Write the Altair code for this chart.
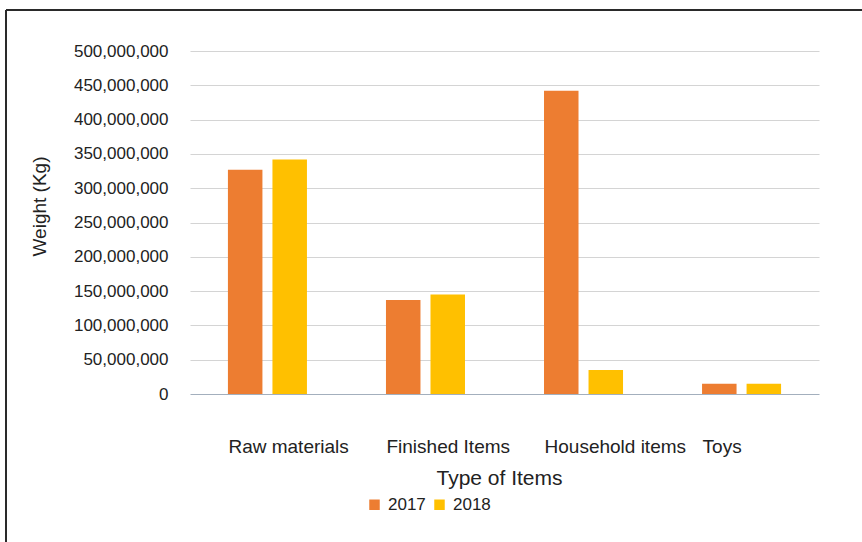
import altair as alt
import pandas as pd

categories = ["Raw materials", "Finished Items", "Household items", "Toys"]
years = ["2017", "2018"]
values_2017 = [327000000, 137000000, 442000000, 15000000]
values_2018 = [342000000, 145000000, 35000000, 15000000]
y_ticks = list(range(0, 500000001, 50000000))
colors = ["#ED7D31", "#FFC000"]

rows = []
for c, a, b in zip(categories, values_2017, values_2018):
    rows.append({"Type": c, "Year": "2017", "Weight": a})
    rows.append({"Type": c, "Year": "2018", "Weight": b})
df = pd.DataFrame(rows)

FONT = "Liberation Sans"
TXT = "#222222"

bars = alt.Chart(df).mark_bar().encode(
    x=alt.X("Type:N", sort=categories,
            scale=alt.Scale(paddingInner=0.5, paddingOuter=0.24),
            axis=alt.Axis(title="Type of Items", labelAngle=0, labelAlign="left",
                          labelOffset=-39, labelBaseline="alphabetic", labelPadding=58,
                          ticks=False, tickSize=0, domain=False, grid=False,
                          labelOverlap=False,
                          labelFontSize=19, labelFont=FONT, labelColor=TXT,
                          titleFontSize=21, titleFont=FONT, titleColor=TXT,
                          titleFontWeight="normal", titleBaseline="alphabetic",
                          titleY=90, titleX=309)),
    xOffset=alt.XOffset("Year:N", sort=years,
                        scale=alt.Scale(paddingInner=0.225, paddingOuter=0)),
    y=alt.Y("Weight:Q", scale=alt.Scale(domain=[0, 500000000], nice=False),
            axis=alt.Axis(title="Weight (Kg)", values=y_ticks, format=",d",
                          ticks=False, tickSize=0, domain=False,
                          labelOverlap=False,
                          gridColor=alt.condition("datum.value === 0",
                                                  alt.value("#a3afbd"),
                                                  alt.value("#d4d4d4")),
                          gridWidth=1.2,
                          labelPadding=22, labelFontSize=17, labelFont=FONT,
                          labelColor=TXT, titleFontSize=19, titleFont=FONT,
                          titleColor=TXT, titleFontWeight="normal",
                          titleAngle=270, titleAlign="center",
                          titleBaseline="middle", titleX=-151, titleY=155)),
    color=alt.Color("Year:N", sort=years,
                    scale=alt.Scale(domain=years, range=colors),
                    legend=alt.Legend(title=None, orient="none", legendX=176,
                                      legendY=445, direction="horizontal",
                                      symbolType="square", symbolSize=110,
                                      symbolStrokeWidth=0.6,
                                      labelFontSize=17, labelFont=FONT,
                                      labelColor=TXT, labelOffset=5,
                                      columnPadding=5, padding=0)),
)

frame_top = alt.Chart(alt.Data(values=[{"a": 1}])).mark_rule(
    color="#2a2a2a", strokeWidth=2
).encode(x=alt.value(-184), x2=alt.value(700), y=alt.value(-41))
frame_left = alt.Chart(alt.Data(values=[{"a": 1}])).mark_rule(
    color="#2a2a2a", strokeWidth=2
).encode(x=alt.value(-184), y=alt.value(-41), y2=alt.value(520))

chart = alt.layer(bars, frame_top, frame_left).properties(
    width=629, height=343,
    autosize=alt.AutoSizeParams(type="none"),
    padding={"left": 190, "top": 51, "right": 43, "bottom": 148},
    background="white",
).configure_view(stroke=None)

chart.save("out.html", embed_options={"renderer": "svg", "actions": False})
